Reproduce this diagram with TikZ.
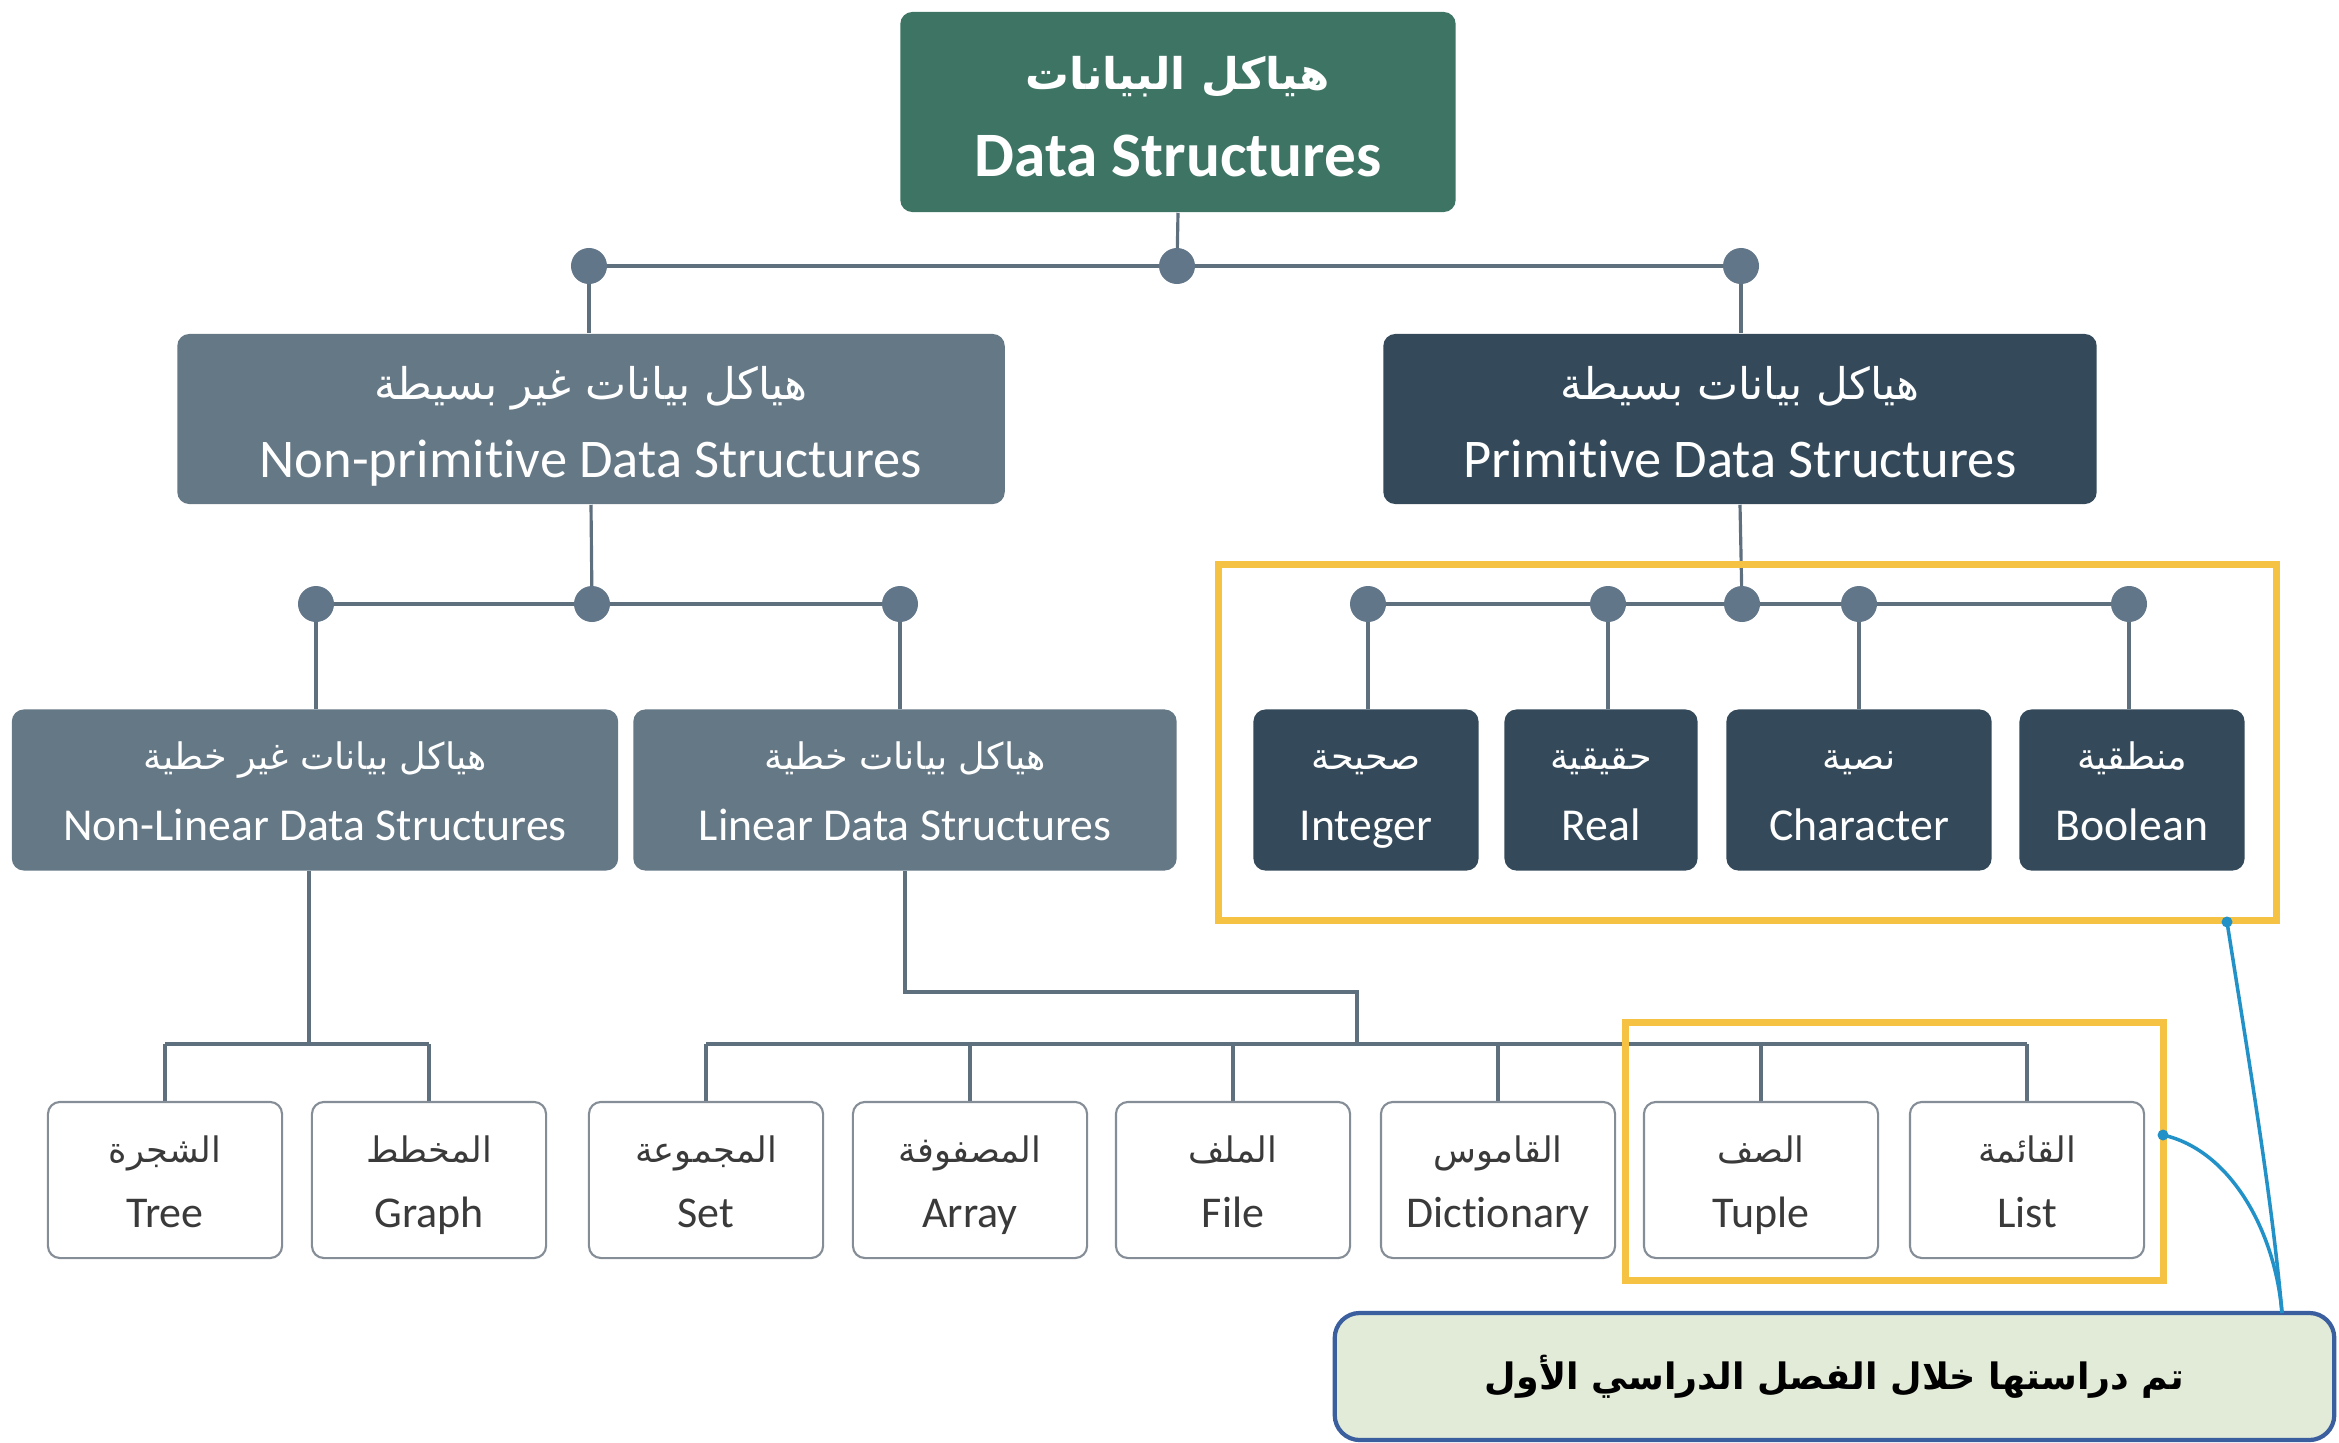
\documentclass[tikz,border=0pt]{standalone}
\usepackage{fontspec}
\setmainfont{Carlito}[Ligatures=NoCommon]
\newfontfamily\arabicfont[Script=Arabic,Scale=0.8]{DejaVu Sans}
\newfontfamily\arabicboldfont[Script=Arabic,Scale=0.69]{DejaVu Sans}
\TeXXeTstate=1
% #1 = height above first baseline, #2 = arabic line, #3 = english line
\newcommand{\tw}[3]{\rule{0pt}{#1}{\arabicfont #2}\\#3\rule[-5pt]{0pt}{5pt}}
\definecolor{topgreen}{HTML}{3D7463}
\definecolor{npgray}{HTML}{657886}
\definecolor{prdark}{HTML}{344A5A}
\definecolor{lineg}{HTML}{5E6F7E}
\definecolor{dotc}{HTML}{62768A}
\definecolor{leafb}{HTML}{858E97}
\definecolor{leaft}{HTML}{3A3A3A}
\definecolor{hlyellow}{HTML}{F5C243}
\definecolor{callfill}{HTML}{E2EBD8}
\definecolor{callbord}{HTML}{3A5E9E}
\definecolor{curvec}{HTML}{2191C8}
\pgfdeclarelayer{bg}
\pgfsetlayers{bg,main}
\begin{document}
\begin{tikzpicture}[x=0.01cm,y=-0.01cm,
  box/.style={rectangle, rounded corners=0.12cm, align=center, inner sep=0pt, text=white},
  topbox/.style={box, fill=topgreen, minimum width=5.55cm, minimum height=2.0cm, font=\fontsize{18}{24.5}\selectfont\bfseries},
  l1box/.style={box, minimum height=1.7cm, font=\fontsize{15.5}{22}\selectfont},
  l2box/.style={box, minimum height=1.61cm, font=\fontsize{13}{20}\selectfont},
  leaf/.style={rectangle, rounded corners=0.12cm, draw=leafb, line width=0.6pt, fill=white, text=leaft, minimum width=2.34cm, minimum height=1.56cm, align=center, inner sep=0pt, font=\fontsize{12.5}{18.5}\selectfont},
  dot/.style={circle, fill=dotc, minimum size=0.36cm, inner sep=0pt},
  conn/.style={draw=lineg, line width=0.9pt},
  hlbox/.style={rectangle, draw=hlyellow, line width=2pt, inner sep=0pt},
  callbox/.style={rectangle, rounded corners=0.25cm, draw=callbord, line width=1.2pt, fill=callfill, minimum width=9.99cm, minimum height=1.27cm, inner sep=0pt, font=\fontsize{15}{18}\selectfont},
  curveline/.style={draw=curvec, line width=1pt}
]
\useasboundingbox (0,0) rectangle (2339,1442);

% boxes
\node[topbox] (top) at (1178,112) {\rule{0pt}{16.9pt}{\arabicboldfont\bfseries\beginR هياكل البيانات\endR}\\Data Structures\rule[-5pt]{0pt}{5pt}};
\node[l1box, fill=npgray, minimum width=8.27cm] (np) at (591,419) {\tw{16.1pt}{\beginR هياكل بيانات غير بسيطة\endR}{Non-primitive Data Structures}};
\node[l1box, fill=prdark, minimum width=7.13cm] (pr) at (1740,419) {\tw{16.1pt}{\beginR هياكل بيانات بسيطة\endR}{Primitive Data Structures}};
\node[l2box, fill=npgray, minimum width=6.06cm] (nl) at (315,790) {\tw{13.5pt}{\beginR هياكل بيانات غير خطية\endR}{Non-Linear Data Structures}};
\node[l2box, fill=npgray, minimum width=5.43cm] (li) at (905,790) {\tw{13.5pt}{\beginR هياكل بيانات خطية\endR}{Linear Data Structures}};
\node[l2box, fill=prdark, minimum width=2.25cm] (int) at (1366,790) {\tw{13.5pt}{\beginR صحيحة\endR}{Integer}};
\node[l2box, fill=prdark, minimum width=1.93cm] (real) at (1601,790) {\tw{13.5pt}{\beginR حقيقية\endR}{Real}};
\node[l2box, fill=prdark, minimum width=2.65cm] (char) at (1859,790) {\tw{13.5pt}{\beginR نصية\endR}{Character}};
\node[l2box, fill=prdark, minimum width=2.25cm] (bool) at (2132,790) {\tw{13.5pt}{\beginR منطقية\endR}{Boolean}};

\node[leaf] (tree) at (165,1180) {\tw{13.3pt}{\beginR الشجرة\endR}{Tree}};
\node[leaf] (graph) at (429,1180) {\tw{13.3pt}{\beginR المخطط\endR}{Graph}};
\node[leaf] (set) at (706,1180) {\tw{13.3pt}{\beginR المجموعة\endR}{Set}};
\node[leaf] (array) at (970,1180) {\tw{13.3pt}{\beginR المصفوفة\endR}{Array}};
\node[leaf] (file) at (1233,1180) {\tw{13.3pt}{\beginR الملف\endR}{File}};
\node[leaf] (dict) at (1498,1180) {\tw{13.3pt}{\beginR القاموس\endR}{Dictionary}};
\node[leaf] (tuple) at (1761,1180) {\tw{13.3pt}{\beginR الصف\endR}{Tuple}};
\node[leaf] (list) at (2027,1180) {\tw{13.3pt}{\beginR القائمة\endR}{List}};

% dots
\node[dot] (jt) at (1177,266) {};
\node[dot] (jtl) at (589,266) {};
\node[dot] (jtr) at (1741,266) {};
\node[dot] (jn) at (592,604) {};
\node[dot] (jnl) at (316,604) {};
\node[dot] (jnr) at (900,604) {};
\node[dot] (jp) at (1742,604) {};
\node[dot] (jpi) at (1368,604) {};
\node[dot] (jpr) at (1608,604) {};
\node[dot] (jpc) at (1859,604) {};
\node[dot] (jpb) at (2129,604) {};

\coordinate (hl) at (309,1044);
\coordinate (lk) at (1357,992);

\begin{pgfonlayer}{bg}
\draw[conn] (top.south) -- (jt.center);
\draw[conn] (jtl.center) -- (jtr.center);
\draw[conn] (jtl.center) -- (jtl |- np.north);
\draw[conn] (jtr.center) -- (jtr |- pr.north);
\draw[conn] (np.south) -- (jn.center);
\draw[conn] (jnl.center) -- (jnr.center);
\draw[conn] (jnl.center) -- (jnl |- nl.north);
\draw[conn] (jnr.center) -- (jnr |- li.north);
\draw[conn] (pr.south) -- (jp.center);
\draw[conn] (jpi.center) -- (jpb.center);
\draw[conn] (jpi.center) -- (jpi |- int.north);
\draw[conn] (jpr.center) -- (jpr |- real.north);
\draw[conn] (jpc.center) -- (jpc |- char.north);
\draw[conn] (jpb.center) -- (jpb |- bool.north);
% non-linear tree
\draw[conn] (nl.south -| hl) -- (hl);
\draw[conn] (tree.north |- hl) -- (graph.north |- hl);
\draw[conn] (tree.north |- hl) -- (tree.north);
\draw[conn] (graph.north |- hl) -- (graph.north);
% linear tree
\draw[conn] (li.south) |- (lk) -- (lk |- hl);
\draw[conn] (set.north |- hl) -- (list.north |- hl);
\foreach \n in {set,array,file,dict,tuple,list}
  \draw[conn] (\n.north |- hl) -- (\n.north);
\end{pgfonlayer}

% highlight frames
\node[hlbox, minimum width=10.57cm, minimum height=3.55cm] (yb1) at (1747.5,742.5) {};
\node[hlbox, minimum width=5.37cm, minimum height=2.57cm] (yb2) at (1894.5,1151.5) {};

% callout
\node[callbox] (call) at (1834.5,1376.5) {\arabicboldfont\bfseries\beginR تم دراستها خلال الفصل الدراسي الأول\endR};
\coordinate (ca) at (2227,922);
\coordinate (cb) at (2163,1135);
\coordinate (ce) at (2282,1313);
\draw[curveline] (ca) .. controls (2252,1080) and (2272,1200) .. (ce);
\draw[curveline] (cb) .. controls (2230,1150) and (2275,1230) .. (ce);
\fill[curvec] (ca) circle (0.055cm);
\fill[curvec] (cb) circle (0.055cm);
\end{tikzpicture}
\end{document}
